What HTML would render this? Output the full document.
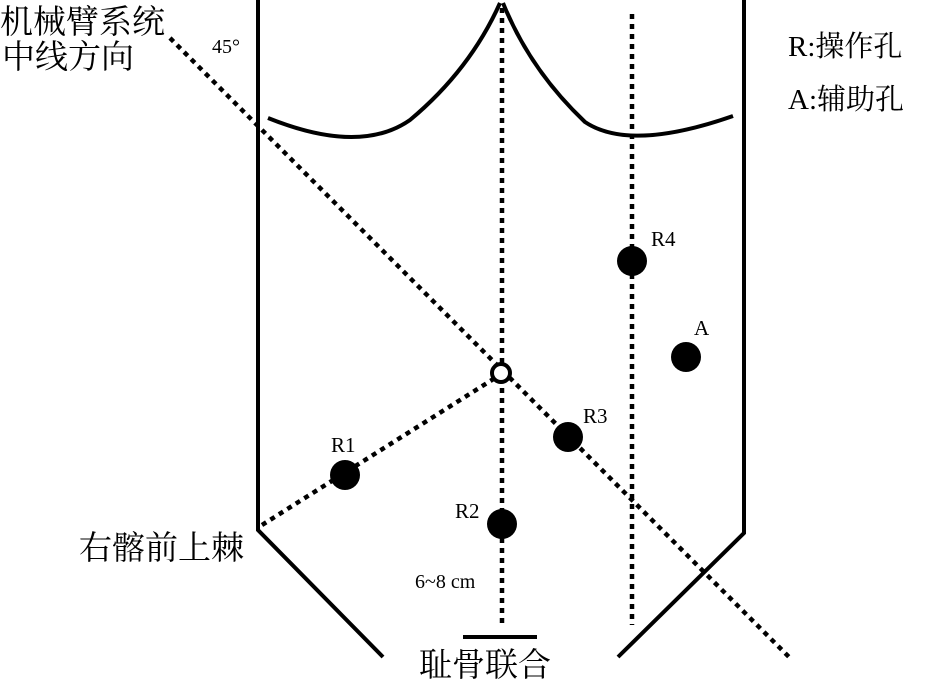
<!DOCTYPE html>
<html><head><meta charset="utf-8"><style>
html,body{margin:0;padding:0;background:#fff;}
svg{display:block;}
.cj{font-family:"Liberation Serif","Noto Serif CJK SC",serif;fill:#000;}
</style></head><body>
<svg width="929" height="681" viewBox="0 0 929 681" xmlns="http://www.w3.org/2000/svg">
<g stroke="#000" stroke-width="4" fill="none">
<path d="M258,0 L258,530 L383,657"/>
<path d="M744,0 L744,533 L618,657"/>
<path d="M268,118 Q360,155 410,120 Q470,70 500,3"/>
<path d="M503,3 Q530,70 585,122 Q630,152 733,116"/>
<line x1="463" y1="637" x2="537" y2="637"/>
</g>
<g stroke="#000" stroke-width="4.5" fill="none" stroke-dasharray="5 5">
<line x1="502" y1="8" x2="502" y2="625"/>
<line x1="632" y1="14" x2="632" y2="625"/>
<line x1="170" y1="38" x2="790" y2="658"/>
<line x1="262" y1="525" x2="495" y2="378"/>
</g>
<circle cx="501" cy="373" r="9" fill="#fff" stroke="#000" stroke-width="4"/>
<g fill="#000">
<circle cx="632" cy="261" r="15"/>
<circle cx="686" cy="357" r="15"/>
<circle cx="568" cy="437" r="15"/>
<circle cx="345" cy="475" r="15"/>
<circle cx="502" cy="524" r="15"/>
</g>
<g class="cj">
<text x="0" y="33" font-size="33">机械臂系统</text>
<text x="2" y="68" font-size="33">中线方向</text>
<text x="212" y="53" font-size="20">45°</text>
<text x="788" y="56" font-size="29">R:操作孔</text>
<text x="788" y="109" font-size="29">A:辅助孔</text>
<text x="79" y="559" font-size="33">右髂前上棘</text>
<text x="419" y="676" font-size="33">耻骨联合</text>
<text x="331" y="452" font-size="21">R1</text>
<text x="455" y="518" font-size="21">R2</text>
<text x="583" y="423" font-size="21">R3</text>
<text x="651" y="246" font-size="21">R4</text>
<text x="694" y="335" font-size="21">A</text>
<text x="415" y="588" font-size="20">6~8 cm</text>
</g>
</svg>
</body></html>
